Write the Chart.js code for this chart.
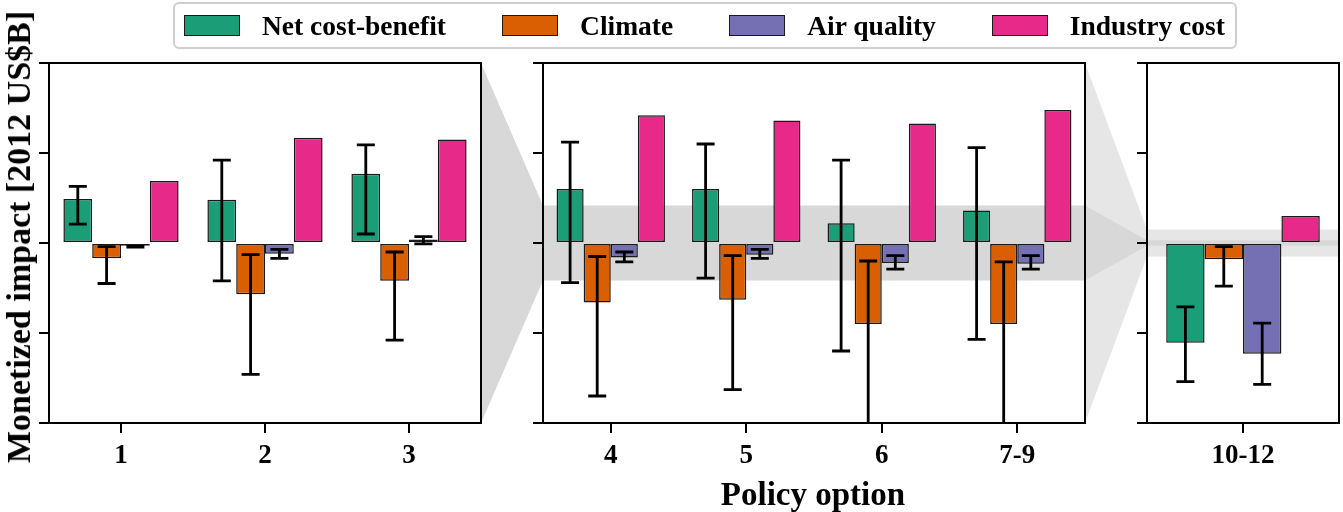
<!DOCTYPE html>
<html>
<head>
<meta charset="utf-8">
<script src="https://cdn.jsdelivr.net/npm/chart.js@4.4.1/dist/chart.umd.min.js"></script>
<style>
  html, body { margin: 0; padding: 0; background: #fff; }
  #wrap { position: relative; width: 1343px; height: 512px; overflow: hidden; font-family: 'Liberation Serif', 'Times New Roman', serif; font-weight: bold; color: #000; }
  canvas { position: absolute; top: 0; }
  #legend { position: absolute; left: 173px; top: 2px; width: 1064px; height: 47px; box-sizing: border-box; border: 2.5px solid #cfcfcf; border-radius: 6px; display: flex; align-items: center; padding-left: 9px; }
  .item { display: flex; align-items: center; margin-right: 56px; font-size: 27.5px; white-space: nowrap; }
  .sw { width: 56px; height: 21px; box-sizing: border-box; border: 1.5px solid #1a1a1a; margin-right: 22px; }
  .title { position: absolute; font-size: 33px; line-height: 1; white-space: nowrap; }
</style>
</head>
<body>
<div id="wrap">
  <canvas id="bg" width="1343" height="512" style="left:0"></canvas>
  <canvas id="c1" width="490" height="512" style="left:0"></canvas>
  <canvas id="c2" width="610" height="512" style="left:490px"></canvas>
  <canvas id="c3" width="243" height="512" style="left:1100px"></canvas>
  <div id="legend"></div>
  <div class="title" id="ytitle" style="left:19px; top:237px; font-size:34px; transform: translate(-50%,-50%) rotate(-90deg);">Monetized impact [2012 US$B]</div>
  <div class="title" id="xtitle" style="left:813px; top:494px; transform: translate(-50%,-50%);">Policy option</div>
</div>
<script>
// ---- data ----
const panelCategories = [['1', '2', '3'], ['4', '5', '6', '7-9'], ['10-12']];
const seriesNames = ['Net cost-benefit', 'Climate', 'Air quality', 'Industry cost'];

const netCostBenefit = [0.49, 0.48, 0.77, 2.88, 2.88, 1.06, 1.73, -71.0];
const netLow        = [0.21, -0.42, 0.10, -2.11, -1.87, -5.76, -5.14, -98.6];
const netHigh       = [0.63, 0.92, 1.09, 5.38, 5.28, 4.42, 5.09, -45.4];

const climate       = [-0.17, -0.57, -0.42, -3.17, -3.02, -4.32, -4.32, -11.5];
const climateLow    = [-0.45, -1.46, -1.08, -8.16, -7.82, -11.0, -11.0, -30.7];
const climateHigh   = [-0.04, -0.13, -0.10, -0.72, -0.67, -0.96, -1.01, -2.6];

const airQuality    = [-0.03, -0.12, 0.04, -0.77, -0.62, -1.06, -1.10, -78.7];
const airLow        = [-0.045, -0.17, -0.01, -1.01, -0.82, -1.39, -1.39, -100.5];
const airHigh       = [-0.035, -0.07, 0.07, -0.48, -0.34, -0.67, -0.67, -57.0];

const industryCost  = [0.69, 1.17, 1.15, 6.82, 6.53, 6.38, 7.10, 19.2];

const yLimits = [2, 9.6, 128];

// ---- style ----
const colors = ['#1b9e77', '#d95f02', '#7570b3', '#e7298a'];
const FONT = "'Liberation Serif', 'Times New Roman', serif";

const seriesValues = [netCostBenefit, climate, airQuality, industryCost];
const seriesLow = [netLow, climateLow, airLow, null];
const seriesHigh = [netHigh, climateHigh, airHigh, null];

// legend
const legend = document.getElementById('legend');
seriesNames.forEach((n, i) => {
  const it = document.createElement('div'); it.className = 'item';
  const sw = document.createElement('div'); sw.className = 'sw'; sw.style.background = colors[i];
  const tx = document.createElement('span'); tx.textContent = n;
  it.appendChild(sw); it.appendChild(tx); legend.appendChild(it);
});

const boxPlugin = {
  id: 'box',
  afterDraw(chart) {
    const { ctx, chartArea: a } = chart;
    ctx.save();
    ctx.strokeStyle = '#000'; ctx.lineWidth = 2;
    ctx.strokeRect(a.left, a.top, a.right - a.left, a.bottom - a.top);
    ctx.restore();
  }
};

const errPlugin = {
  id: 'err',
  afterDatasetsDraw(chart) {
    const { ctx, chartArea: a } = chart;
    const ys = chart.scales.y;
    ctx.save();
    ctx.beginPath(); ctx.rect(a.left, a.top, a.right - a.left, a.bottom - a.top); ctx.clip();
    ctx.strokeStyle = '#000'; ctx.lineWidth = 2.8; ctx.lineCap = 'butt';
    chart.data.datasets.forEach((ds, i) => {
      if (!ds.errLow) return;
      const meta = chart.getDatasetMeta(i);
      meta.data.forEach((bar, j) => {
        const lo = ys.getPixelForValue(ds.errLow[j]);
        const hi = ys.getPixelForValue(ds.errHigh[j]);
        const x = bar.x, cw = 9;
        ctx.beginPath();
        ctx.moveTo(x, lo); ctx.lineTo(x, hi);
        ctx.moveTo(x - cw, lo); ctx.lineTo(x + cw, lo);
        ctx.moveTo(x - cw, hi); ctx.lineTo(x + cw, hi);
        ctx.stroke();
      });
    });
    ctx.restore();
  }
};

function makeChart(id, p, startIdx, padL, padR) {
  const labels = panelCategories[p];
  const n = labels.length;
  const R = yLimits[p];
  const datasets = seriesNames.map((name, s) => ({
    label: name,
    data: seriesValues[s].slice(startIdx, startIdx + n),
    errLow: seriesLow[s] ? seriesLow[s].slice(startIdx, startIdx + n) : null,
    errHigh: seriesHigh[s] ? seriesHigh[s].slice(startIdx, startIdx + n) : null,
    backgroundColor: colors[s],
    borderColor: '#1a1a1a',
    borderWidth: 1.5,
    borderSkipped: false,
    categoryPercentage: 0.8,
    barPercentage: 1.0
  }));
  return new Chart(document.getElementById(id), {
    type: 'bar',
    data: { labels, datasets },
    options: {
      responsive: false,
      animation: false,
      layout: { padding: { left: padL, right: padR, top: 63, bottom: 0 } },
      plugins: { legend: { display: false }, tooltip: { enabled: false } },
      scales: {
        x: {
          grid: { display: true, drawOnChartArea: false, drawTicks: true, tickLength: 10, color: '#000', lineWidth: 2, offset: false },
          border: { display: false },
          ticks: { font: { family: FONT, size: 27, weight: 'bold' }, color: '#000', padding: 7, maxRotation: 0, autoSkip: false },
          afterFit: s => { s.height = 89; }
        },
        y: {
          min: -R, max: R,
          ticks: { stepSize: R / 2, display: false },
          grid: { display: true, drawOnChartArea: false, drawTicks: true, tickLength: 10, color: '#000', lineWidth: 2 },
          border: { display: false },
          afterFit: s => { s.width = 10; }
        }
      }
    },
    plugins: [boxPlugin, errPlugin]
  });
}

const ch1 = makeChart('c1', 0, 0, 39, 9);
const ch2 = makeChart('c2', 1, 3, 43, 15);
const ch3 = makeChart('c3', 2, 7, 37, 4);

// ---- zoom connectors on background ----
const bg = document.getElementById('bg').getContext('2d');
const off = [0, 490, 1100];
const charts = [ch1, ch2, ch3];
function area(k) {
  const a = charts[k].chartArea;
  return { l: a.left + off[k], r: a.right + off[k], t: a.top, b: a.bottom };
}
const A1 = area(0), A2 = area(1), A3 = area(2);
const y2 = v => ch2.scales.y.getPixelForValue(v);
const y3 = v => ch3.scales.y.getPixelForValue(v);
const LIGHT = '#e6e6e6', DARK = '#d8d8d8';
function poly(pts, c) {
  bg.beginPath(); bg.moveTo(pts[0][0], pts[0][1]);
  for (let i = 1; i < pts.length; i++) bg.lineTo(pts[i][0], pts[i][1]);
  bg.closePath(); bg.fillStyle = c; bg.fill();
}
// panel2 full range -> panel3 (light)
poly([[A2.r, A2.t], [A3.l, y3(yLimits[1])], [A3.l, y3(-yLimits[1])], [A2.r, A2.b]], LIGHT);
poly([[A3.l, y3(yLimits[1])], [A3.r, y3(yLimits[1])], [A3.r, y3(-yLimits[1])], [A3.l, y3(-yLimits[1])]], LIGHT);
// panel1 full range -> panel2 (dark)
poly([[A1.r, A1.t], [A2.l, y2(yLimits[0])], [A2.l, y2(-yLimits[0])], [A1.r, A1.b]], DARK);
poly([[A2.l, y2(yLimits[0])], [A2.r, y2(yLimits[0])], [A2.r, y2(-yLimits[0])], [A2.l, y2(-yLimits[0])]], DARK);
// panel1 range continues into panel3 (dark)
poly([[A2.r, y2(yLimits[0])], [A3.l, y3(yLimits[0])], [A3.l, y3(-yLimits[0])], [A2.r, y2(-yLimits[0])]], DARK);
poly([[A3.l, y3(yLimits[0])], [A3.r, y3(yLimits[0])], [A3.r, y3(-yLimits[0])], [A3.l, y3(-yLimits[0])]], DARK);
</script>
</body>
</html>
